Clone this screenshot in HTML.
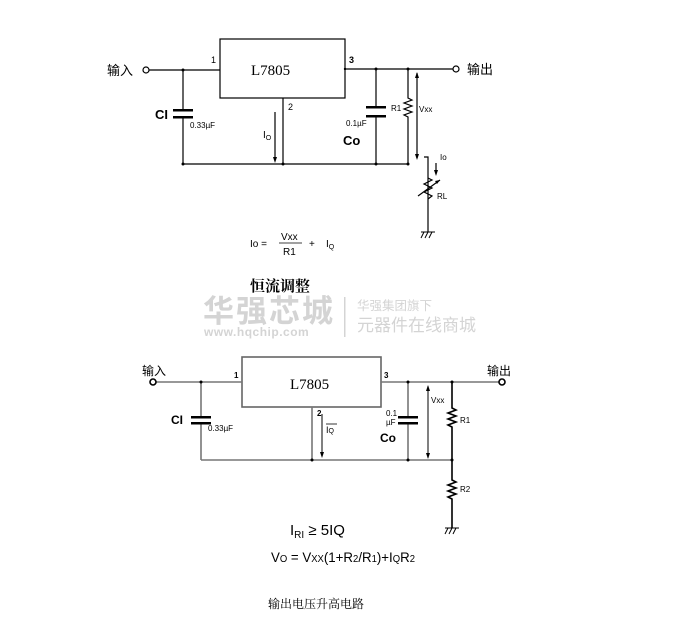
<!DOCTYPE html>
<html><head><meta charset="utf-8"><style>
html,body{margin:0;padding:0;background:#fff}
svg{display:block}
text{font-family:"Liberation Sans","Noto Sans CJK SC",sans-serif}
.s{font-family:"Liberation Serif","Noto Serif CJK SC",serif}
</style></head><body>
<svg width="676" height="633" viewBox="0 0 676 633" xmlns="http://www.w3.org/2000/svg">
<!-- TOP CIRCUIT -->
<g stroke="#000" stroke-width="1.2" fill="none">
<rect x="220" y="39" width="125" height="59"/>
<line x1="149" y1="70" x2="220" y2="70"/>
<circle cx="146" cy="70" r="3"/>
<line x1="345" y1="69" x2="453" y2="69"/>
<circle cx="456" cy="69" r="3"/>
<line x1="183" y1="70" x2="183" y2="110"/>
<line x1="183" y1="117" x2="183" y2="164"/>
<line x1="183" y1="164" x2="408" y2="164"/>
<line x1="283" y1="98" x2="283" y2="164"/>
<line x1="376" y1="69" x2="376" y2="107"/>
<line x1="376" y1="116" x2="376" y2="164"/>
<polyline points="408,69 408,98 412,100 404,103 412,106 404,109 412,112 404,115 408,117 408,164"/>
<line x1="417" y1="73" x2="417" y2="158"/>
<polyline points="424,157 428,157 428,232"/>
<polyline points="428,178 432,180 424,184 432,188 424,192 432,196 428,199"/>
<line x1="418" y1="196" x2="440" y2="180"/>
<line x1="275" y1="112" x2="275" y2="160"/>
<line x1="436" y1="163" x2="436" y2="173"/>
</g>
<g fill="#000">
<rect x="173" y="109" width="20" height="2.5"/>
<rect x="173" y="116" width="20" height="2.5"/>
<rect x="366" y="106" width="20" height="2.5"/>
<rect x="366" y="115" width="20" height="2.5"/>
<circle cx="183" cy="70" r="1.5"/><circle cx="183" cy="164" r="1.5"/>
<circle cx="283" cy="164" r="1.5"/><circle cx="376" cy="69" r="1.5"/><circle cx="376" cy="164" r="1.5"/>
<circle cx="408" cy="69" r="1.5"/><circle cx="408" cy="164" r="1.5"/><circle cx="345" cy="69" r="1.2"/>
<path d="M275,163 l-2,-6 h4z"/>
<path d="M417,72 l-2,6 h4z"/><path d="M417,160 l-2,-6 h4z"/>
<path d="M436,176 l-2,-6 h4z"/>
<path d="M440,180 l-5,1 l2,3z"/>
</g>
<g stroke="#000" stroke-width="1">
<line x1="421" y1="232" x2="435" y2="232"/>
<line x1="424" y1="232" x2="421" y2="238"/><line x1="428" y1="232" x2="425" y2="238"/><line x1="432" y1="232" x2="429" y2="238"/>
</g>
<g fill="#000">
<text x="107" y="75" font-size="13">输入</text>
<text x="467" y="74" font-size="13">输出</text>
<text x="211" y="63" font-size="9">1</text>
<text x="349" y="63" font-size="9" font-weight="bold">3</text>
<text x="288" y="110" font-size="9">2</text>
<text class="s" x="251" y="75" font-size="15">L7805</text>
<text x="155" y="119" font-size="13" font-weight="bold">CI</text>
<text x="190" y="128" font-size="8">0.33µF</text>
<text x="346" y="126" font-size="8">0.1µF</text>
<text x="343" y="145" font-size="13" font-weight="bold">Co</text>
<text x="263" y="138" font-size="10">I<tspan font-size="7" dy="2">O</tspan></text>
<text x="391" y="111" font-size="8">R1</text>
<text x="419" y="112" font-size="8">Vxx</text>
<text x="440" y="160" font-size="8">Io</text>
<text x="437" y="199" font-size="8">RL</text>
<text x="250" y="247" font-size="10">Io =</text>
<text x="281" y="240" font-size="10">Vxx</text>
<line x1="279" y1="243" x2="302" y2="243" stroke="#000" stroke-width="0.8"/>
<text x="283" y="255" font-size="10">R1</text>
<text x="309" y="247" font-size="10">+</text>
<text x="326" y="247" font-size="10">I<tspan font-size="7" dy="2">Q</tspan></text>
<text class="s" x="250" y="291" font-size="15" font-weight="bold">恒流调整</text>
</g>
<!-- WATERMARK -->
<g fill="#d4d4d4">
<text x="203" y="322" font-size="31" font-weight="bold" letter-spacing="2">华强芯城</text>
<text x="204" y="336" font-size="12" font-weight="bold" letter-spacing="0.5">www.hqchip.com</text>
<rect x="344" y="297" width="1.5" height="40"/>
<text x="357" y="310" font-size="12.5">华强集团旗下</text>
<text x="357" y="331" font-size="17">元器件在线商城</text>
</g>
<!-- BOTTOM CIRCUIT -->
<g stroke="#777" stroke-width="1.6" fill="none">
<rect x="242" y="357" width="139" height="50" stroke="#666"/>
<line x1="156" y1="382" x2="242" y2="382"/>
<circle cx="153" cy="382" r="3" stroke="#000"/>
<line x1="381" y1="382" x2="499" y2="382"/>
<circle cx="502" cy="382" r="3" stroke="#000"/>
<line x1="201" y1="382" x2="201" y2="417"/>
<line x1="201" y1="423" x2="201" y2="460"/>
<line x1="201" y1="460" x2="452" y2="460"/>
<line x1="312" y1="407" x2="312" y2="460"/>
<line x1="408" y1="382" x2="408" y2="417"/>
<line x1="408" y1="423" x2="408" y2="460"/>
<polyline stroke="#000" points="452,382 452,408 456,410 448,413 456,416 448,419 456,422 448,425 452,427 452,480 456,482 448,485 456,488 448,491 456,494 448,497 452,499 452,528"/>
<line x1="428" y1="386" x2="428" y2="458" stroke="#000" stroke-width="1"/>
<line x1="322" y1="414" x2="322" y2="455" stroke="#000" stroke-width="1"/>
</g>
<g fill="#000">
<rect x="191" y="416" width="20" height="2.5"/><rect x="191" y="422" width="20" height="2.5"/>
<rect x="398" y="416" width="20" height="2.5"/><rect x="398" y="422" width="20" height="2.5"/>
<circle cx="201" cy="382" r="1.5"/><circle cx="312" cy="460" r="1.5"/>
<circle cx="408" cy="382" r="1.5"/><circle cx="408" cy="460" r="1.5"/>
<circle cx="452" cy="382" r="1.5"/><circle cx="452" cy="460" r="1.5"/>
<path d="M428,385 l-2,6 h4z"/><path d="M428,459 l-2,-6 h4z"/><path d="M322,458 l-2,-6 h4z"/>
</g>
<g stroke="#000" stroke-width="1">
<line x1="445" y1="528" x2="459" y2="528"/>
<line x1="448" y1="528" x2="445" y2="534"/><line x1="452" y1="528" x2="449" y2="534"/><line x1="456" y1="528" x2="453" y2="534"/>
</g>
<g fill="#000">
<text x="142" y="375" font-size="12">输入</text>
<text x="487" y="375" font-size="12">输出</text>
<text x="234" y="378" font-size="8" font-weight="bold">1</text>
<text x="384" y="378" font-size="8" font-weight="bold">3</text>
<text x="317" y="416" font-size="8" font-weight="bold">2</text>
<text class="s" x="290" y="389" font-size="15">L7805</text>
<text x="171" y="424" font-size="12" font-weight="bold">CI</text>
<text x="208" y="431" font-size="8">0.33µF</text>
<text x="386" y="416" font-size="8">0.1</text>
<text x="386" y="425" font-size="8">µF</text>
<text x="380" y="442" font-size="12" font-weight="bold">Co</text>
<text x="326" y="433" font-size="9">I<tspan font-size="7">Q</tspan></text>
<line x1="326" y1="424" x2="337" y2="424" stroke="#000" stroke-width="0.8"/>
<text x="431" y="403" font-size="8">Vxx</text>
<text x="460" y="423" font-size="8">R1</text>
<text x="460" y="492" font-size="8">R2</text>
<text x="290" y="535" font-size="15">I<tspan font-size="10" dy="3">RI</tspan><tspan dy="-3"> ≥ 5IQ</tspan></text>
<text x="271" y="562" font-size="14" textLength="144" lengthAdjust="spacingAndGlyphs">V<tspan font-size="10">O</tspan> = V<tspan font-size="10">XX</tspan>(1+R<tspan font-size="10">2</tspan>/R<tspan font-size="10">1</tspan>)+I<tspan font-size="10">Q</tspan>R<tspan font-size="10">2</tspan></text>
<text class="s" x="268" y="608" font-size="12">输出电压升高电路</text>
</g>
</svg>
</body></html>
